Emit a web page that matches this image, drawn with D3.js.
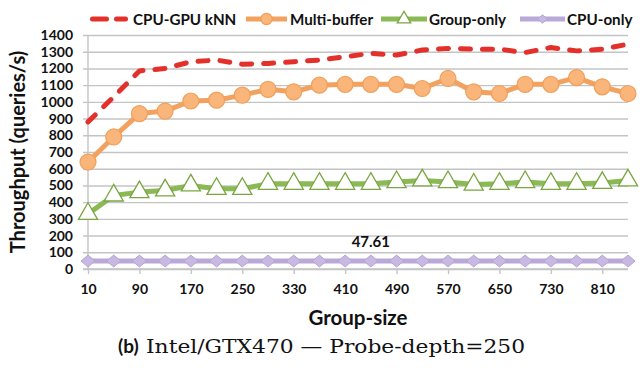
<!DOCTYPE html>
<html>
<head>
<meta charset="utf-8">
<script src="https://cdn.jsdelivr.net/npm/d3@7"></script>
<style>
  body { margin: 0; background: #fff; }
  svg { display: block; }
  text { font-family: Lato, "Open Sans", sans-serif; font-weight: bold; fill: #111; }
</style>
</head>
<body>
<svg id="chart" width="644" height="368"></svg>
<script>
var group_sizes = [10, 50, 90, 130, 170, 210, 250, 290, 330, 370, 410, 450,
                   490, 530, 570, 610, 650, 690, 730, 770, 810, 850];

var cpu_gpu_knn = [880, 1030, 1185, 1200, 1240, 1250, 1225, 1230, 1240, 1250, 1270, 1290,
                   1280, 1310, 1320, 1315, 1315, 1295, 1325, 1305, 1315, 1345];
var multi_buffer = [640, 790, 930, 945, 1005, 1010, 1040, 1075, 1060, 1100, 1105, 1105,
                    1105, 1080, 1140, 1060, 1050, 1105, 1105, 1145, 1090, 1050];
var group_only = [330, 440, 460, 470, 500, 480, 480, 510, 510, 510, 510, 510,
                  520, 530, 520, 505, 510, 520, 510, 510, 515, 530];
var cpu_only = [47.61, 47.61, 47.61, 47.61, 47.61, 47.61, 47.61, 47.61, 47.61, 47.61, 47.61, 47.61,
                47.61, 47.61, 47.61, 47.61, 47.61, 47.61, 47.61, 47.61, 47.61, 47.61];

var y_ticks = d3.range(0, 1401, 100);
var x_tick_labels = group_sizes.filter((d, i) => i % 2 == 0);

var series = [
    {name: 'CPU-GPU kNN', values: cpu_gpu_knn, color: '#e3302b', marker: null, dash: '10,12'},
    {name: 'Multi-buffer', values: multi_buffer, color: '#f2a25e', marker: 'circle'},
    {name: 'Group-only', values: group_only, color: '#8ab956', marker: 'triangle'},
    {name: 'CPU-only', values: cpu_only, color: '#b9a9d8', marker: 'diamond'}
];

var svg = d3.select('#chart');

var x = d3.scalePoint().domain(group_sizes).range([88, 628]);
var y = d3.scaleLinear().domain([0, 1400]).range([269, 35]);

/* grid + y axis */
var yAxis = d3.axisLeft(y).tickValues(y_ticks).tickFormat(d3.format('d')).tickSize(-540).tickPadding(15);
var gy = svg.append('g').attr('transform', 'translate(88,0)').call(yAxis);
gy.select('.domain').remove();
gy.selectAll('.tick line').attr('x1', -5).attr('stroke', '#c4c4c4').attr('stroke-width', 1.4);
gy.selectAll('.tick text').style('font-size', '14px').attr('fill', '#111');

svg.append('line')
    .attr('x1', 88).attr('x2', 88).attr('y1', 35).attr('y2', 269)
    .attr('stroke', '#c4c4c4').attr('stroke-width', 1.4);

/* x axis */
var xAxis = d3.axisBottom(x).tickValues(x_tick_labels).tickSize(5).tickPadding(10);
var gx = svg.append('g').attr('transform', 'translate(0,269)').call(xAxis);
gx.select('.domain').attr('stroke', '#c4c4c4').attr('stroke-width', 1.4).attr('d', 'M83,0H628');
gx.selectAll('.tick line').attr('stroke', '#c4c4c4').attr('stroke-width', 1.4);
gx.selectAll('.tick text').style('font-size', '14px').attr('fill', '#111');

/* lines */
var line = d3.line().x((d, i) => x(group_sizes[i])).y(d => y(d));

function drawMarker(g, type, color, size) {
    if (type == 'circle') {
        g.append('circle').attr('r', size).attr('fill', '#f9b57a')
            .attr('stroke', '#f0a05a').attr('stroke-width', 1.2);
    } else if (type == 'triangle') {
        g.append('path').attr('d', d3.symbol(d3.symbolTriangle, size * size * 2.2)())
            .attr('fill', '#fff').attr('stroke', '#79a640').attr('stroke-width', 1.3);
    } else if (type == 'diamond') {
        var s = size;
        g.append('path').attr('d', `M0,${-s*0.85}L${s},0L0,${s*0.85}L${-s},0Z`)
            .attr('fill', '#c7b9e2').attr('stroke', '#b5a5d6').attr('stroke-width', 1);
    }
}

var marker_size = {circle: 8, triangle: 8.5, diamond: 7};

for (const s of series.slice().reverse()) {
    var g = svg.append('g');
    g.append('path')
        .attr('d', line(s.values))
        .attr('fill', 'none')
        .attr('stroke', s.color)
        .attr('stroke-width', 5)
        .attr('stroke-linejoin', 'round')
        .attr('stroke-linecap', s.dash ? 'round' : 'butt')
        .attr('stroke-dasharray', s.dash || null);
    if (s.marker) {
        s.values.forEach((v, i) => {
            var m = g.append('g').attr('transform', `translate(${x(group_sizes[i])},${y(v)})`);
            drawMarker(m, s.marker, s.color, marker_size[s.marker]);
        });
    }
}

/* data label */
svg.append('text')
    .attr('x', x(group_sizes[11])).attr('y', y(cpu_only[11]) - 14)
    .attr('text-anchor', 'middle')
    .style('font-size', '15px')
    .text('47.61');

/* legend */
var legend_pos = [
    {x0: 90, x1: 128, tx: 133},
    {x0: 246, x1: 287, tx: 290},
    {x0: 381, x1: 427, tx: 429},
    {x0: 520, x1: 565, tx: 567}
];
var ly = 19;
series.forEach((s, i) => {
    var p = legend_pos[i];
    var lg = svg.append('g');
    lg.append('line')
        .attr('x1', p.x0 + (s.dash ? 2.5 : 0)).attr('x2', p.x1 - (s.dash ? 2.5 : 0))
        .attr('y1', ly).attr('y2', ly)
        .attr('stroke', s.color).attr('stroke-width', 5)
        .attr('stroke-linecap', s.dash ? 'round' : 'butt')
        .attr('stroke-dasharray', s.dash ? '14,10' : null);
    if (s.marker) {
        var m = lg.append('g').attr('transform', `translate(${(p.x0 + p.x1) / 2},${ly})`);
        drawMarker(m, s.marker, s.color, marker_size[s.marker] * 0.7);
    }
    lg.append('text')
        .attr('x', p.tx).attr('y', ly + 5.5)
        .style('font-size', '15.2px')
        .text(s.name);
});

/* axis titles */
svg.append('text')
    .attr('transform', 'translate(25,152) rotate(-90)')
    .attr('text-anchor', 'middle')
    .style('font-size', '20px')
    .text('Throughput (queries/s)');

svg.append('text')
    .attr('x', 358).attr('y', 325)
    .attr('text-anchor', 'middle')
    .style('font-size', '20.5px')
    .text('Group-size');

/* caption */
svg.append('text')
    .attr('x', 118).attr('y', 353)
    .style('font-size', '19px')
    .text('(b)');
svg.append('text')
    .attr('x', 146).attr('y', 353)
    .attr('textLength', 379)
    .attr('lengthAdjust', 'spacingAndGlyphs')
    .style('font-family', '"DejaVu Serif", "Liberation Serif", serif')
    .style('font-weight', 'normal')
    .style('font-size', '18.5px')
    .text('Intel/GTX470 \u2014 Probe-depth=250');
</script>
</body>
</html>
